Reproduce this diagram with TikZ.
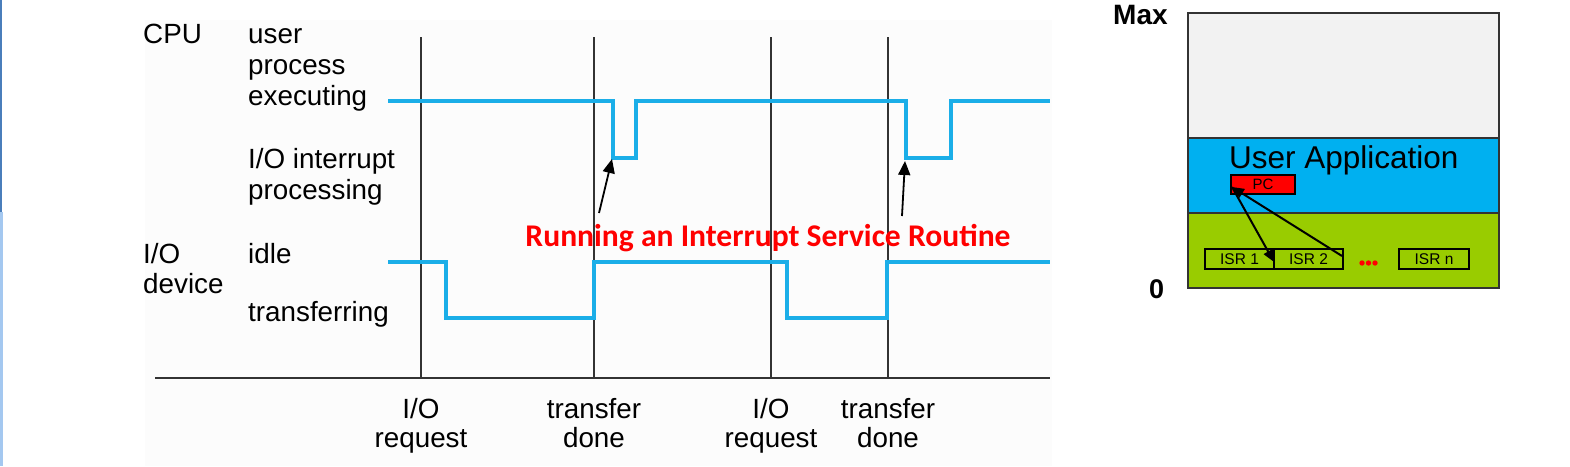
\documentclass[tikz,border=0pt]{standalone}
\usepackage{fontspec}
\setmainfont{Liberation Sans}
\newfontfamily\calibri{Carlito}
\usetikzlibrary{arrows.meta}
\definecolor{sigblue}{HTML}{1BAEE8}
\definecolor{memgray}{HTML}{F2F2F2}
\definecolor{memblue}{HTML}{00B0F0}
\definecolor{memgreen}{HTML}{99CC00}
\definecolor{banddark}{HTML}{4A7EBB}
\definecolor{bandlight}{HTML}{A4C8F0}
\definecolor{faint}{HTML}{FCFCFC}
\definecolor{gridline}{HTML}{333333}
\begin{document}
\begin{tikzpicture}[x=1pt,y=-1pt,
  lbl/.style={anchor=base west,inner sep=0pt,font=\fontsize{27.8}{31}\selectfont},
  blbl/.style={anchor=base,inner sep=0pt,font=\fontsize{27.8}{31}\selectfont},
  signal/.style={draw=sigblue,line width=4pt},
  tick/.style={draw=gridline,line width=1.4pt},
  callout/.style={line width=1.8pt,-{Triangle[length=14pt,width=12pt]}},
  membox/.style={draw=gridline,line width=1.6pt},
  isr/.style={draw=black,line width=1.5pt,minimum width=69pt,minimum height=20pt,inner sep=0pt,font=\fontsize{15.5}{15.5}\selectfont},
  memarrow/.style={line width=2pt,-{Triangle[length=12pt,width=10pt]}}]
\useasboundingbox (0,0) rectangle (1570,466);
\fill[white] (0,0) rectangle (1570,466);
\fill[faint] (145,20) rectangle (1052,466);
\fill[banddark] (0,0) rectangle (1.5,212);
\fill[bandlight] (0,212) rectangle (2.5,466);

% left labels
\node[lbl] (cpu) at (143,43) {CPU};
\node[lbl] (u1) at (248,43) {user};
\node[lbl] (u2) at (248,74) {process};
\node[lbl] (u3) at (248,105) {executing};
\node[lbl] (i1) at (248,168) {I/O interrupt};
\node[lbl] (i2) at (248,199) {processing};
\node[lbl] (dev1) at (143,263) {I/O};
\node[lbl] (dev2) at (143,293) {device};
\node[lbl] (idle) at (248,263) {idle};
\node[lbl] (trans) at (248,321) {transferring};

% axis and vertical lines
\coordinate (ax0) at (155,378);
\coordinate (ax1) at (1050,378);
\draw[draw=gridline,line width=2.4pt] (ax0) -- (ax1);
\foreach \x/\n in {421/a,594/b,771/c,888/d}{
  \coordinate (top\n) at (\x,37);
  \coordinate (bot\n) at (\x,378);
  \draw[tick] (top\n) -- (bot\n);
}

% bottom labels
\node[blbl] (r1a) at (421,418) {I/O};
\node[blbl] (r1b) at (421,447) {request};
\node[blbl] (t1a) at (594,418) {transfer};
\node[blbl] (t1b) at (594,447) {done};
\node[blbl] (r2a) at (771,418) {I/O};
\node[blbl] (r2b) at (771,447) {request};
\node[blbl] (t2a) at (888,418) {transfer};
\node[blbl] (t2b) at (888,447) {done};

% signals
\draw[signal] (388,101) -- (613,101) -- (613,158) -- (636,158) -- (636,101)
  -- (906,101) -- (906,158) -- (951,158) -- (951,101) -- (1050,101);
\draw[signal] (388,262) -- (446,262) -- (446,318) -- (594,318) -- (594,262)
  -- (787,262) -- (787,318) -- (887,318) -- (887,262) -- (1050,262);

% callout arrows
\coordinate (c1s) at (599,213);
\coordinate (c1e) at (612,159);
\coordinate (c2s) at (902,216);
\coordinate (c2e) at (905,161);
\draw[callout] (c1s) -- (c1e);
\draw[callout] (c2s) -- (c2e);
\node[anchor=base,inner sep=0pt,text=red,font=\calibri\bfseries\fontsize{31.6}{36}\selectfont] (isrtxt) at (768,246) {Running an Interrupt Service Routine};

% memory layout
\draw[membox,fill=memgray] (1188,13) rectangle (1499,138);
\draw[membox,fill=memblue] (1188,138) rectangle (1499,213);
\draw[membox,fill=memgreen] (1188,213) rectangle (1499,288);
\node[anchor=base west,inner sep=0pt,font=\fontsize{31.5}{31.5}\selectfont] (ua) at (1229,168) {User Application};
\node[draw=black,line width=1.5pt,fill=red,minimum width=64pt,minimum height=19pt,inner sep=0pt,font=\fontsize{15}{15}\selectfont] (pc) at (1263,184.5) {PC};
\node[isr] (isr1) at (1239.5,259) {ISR 1};
\node[isr] (isr2) at (1308.5,259) {ISR 2};
\node[isr,minimum width=70pt] (isrn) at (1434,259) {ISR n};
\foreach \x in {1362,1368.5,1375}{\fill[red] (\x,263) circle (2.7pt);}
\coordinate (pcc) at (1232,187);
\coordinate (isr1t) at (1274,262);
\coordinate (isr2t) at (1342,256);
\draw[memarrow] (pcc) -- (isr1t);
\draw[memarrow] (isr2t) -- (pcc);
\node[anchor=base west,inner sep=0pt,font=\bfseries\fontsize{28}{28}\selectfont] (max) at (1113,24) {Max};
\node[anchor=base west,inner sep=0pt,font=\bfseries\fontsize{27}{27}\selectfont] (zero) at (1149,298) {0};
\end{tikzpicture}
\end{document}
